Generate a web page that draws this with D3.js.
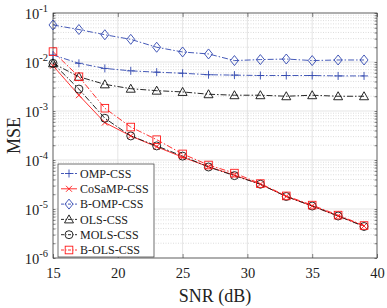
<!DOCTYPE html>
<html>
<head>
<meta charset="utf-8">
<script src="https://cdn.jsdelivr.net/npm/d3@7"></script>
<style>
  body { margin: 0; background: #fff; }
</style>
</head>
<body>
<svg id="chart" width="387" height="308"></svg>
<script>
// data
const snr = [15, 17, 19, 21, 23, 25, 27, 29, 31, 33, 35, 37, 39];
const ompCss = [0.0139, 0.0094, 0.0074, 0.0066, 0.0062, 0.0059, 0.0055, 0.0054, 0.0053, 0.0053, 0.0053, 0.0052, 0.0052];
const cosampCss = [0.0084, 0.0021, 0.00058, 0.00031, 0.000186, 0.000114, 7.3e-5, 4.9e-5, 3.2e-5, 1.8e-5, 1.15e-5, 7.2e-6, 4.5e-6];
const bOmpCss = [0.057, 0.046, 0.036, 0.029, 0.020, 0.016, 0.0146, 0.0107, 0.0112, 0.0115, 0.0107, 0.011, 0.011];
const olsCss = [0.0094, 0.005, 0.0035, 0.00285, 0.0026, 0.00245, 0.0022, 0.0021, 0.0021, 0.002, 0.0021, 0.002, 0.002];
const molsCss = [0.0094, 0.0028, 0.00071, 0.00031, 0.000194, 0.00012, 7.2e-5, 4.8e-5, 3.2e-5, 1.8e-5, 1.15e-5, 7.2e-6, 4.4e-6];
const bOlsCss = [0.0163, 0.005, 0.00114, 0.00047, 0.00026, 0.000133, 7.9e-5, 5.4e-5, 3.3e-5, 1.85e-5, 1.2e-5, 7.5e-6, 4.6e-6];

const xTicks = [15, 20, 25, 30, 35, 40];
const yExps = [-1, -2, -3, -4, -5, -6];

const serif = '"Liberation Serif", "Times New Roman", Times, "DejaVu Serif", serif';
const blue = "#3147b0", red = "#ff1a1a", black = "#111";
const series = [
  { name: "OMP-CSS", values: ompCss, color: blue, dash: "6,2,1.5,2", marker: "plus" },
  { name: "CoSaMP-CSS", values: cosampCss, color: red, dash: null, marker: "cross" },
  { name: "B-OMP-CSS", values: bOmpCss, color: blue, dash: "6,2,1.5,2", marker: "diamond" },
  { name: "OLS-CSS", values: olsCss, color: black, dash: "6,2,1.5,2", marker: "triangle" },
  { name: "MOLS-CSS", values: molsCss, color: black, dash: "6,2,1.5,2", marker: "circle" },
  { name: "B-OLS-CSS", values: bOlsCss, color: red, dash: "6,2,1.5,2", marker: "square" }
];

const margin = { top: 13, right: 10, bottom: 50, left: 53 },
  width = 387 - margin.left - margin.right,
  height = 308 - margin.top - margin.bottom;

const svg = d3.select("#chart");
const g = svg.append("g").attr("transform", `translate(${margin.left},${margin.top})`);

const x = d3.scaleLinear().domain([15, 40]).range([0, width]);
const y = d3.scaleLog().domain([1e-6, 1e-1]).range([height, 0]);

// minor grid (dotted)
const minors = [];
for (let e = -6; e < -1; e++) for (let k = 2; k <= 9; k++) minors.push(k * Math.pow(10, e));
g.selectAll(".minor").data(minors).enter().append("line")
  .attr("x1", 0).attr("x2", width)
  .attr("y1", d => y(d)).attr("y2", d => y(d))
  .attr("stroke", "#c8c8c8").attr("stroke-width", 0.6).attr("stroke-dasharray", "1,1.5");

// major grid
g.selectAll(".vgrid").data(xTicks).enter().append("line")
  .attr("x1", d => x(d)).attr("x2", d => x(d)).attr("y1", 0).attr("y2", height)
  .attr("stroke", "#dedede").attr("stroke-width", 0.8);
g.selectAll(".hgrid").data(yExps).enter().append("line")
  .attr("x1", 0).attr("x2", width)
  .attr("y1", d => y(Math.pow(10, d))).attr("y2", d => y(Math.pow(10, d)))
  .attr("stroke", "#dedede").attr("stroke-width", 0.8);

// axes with inward ticks
const tickLen = 4;
const axB = g.append("g").attr("transform", `translate(0,${height})`)
  .call(d3.axisBottom(x).tickValues(xTicks).tickSizeInner(-tickLen).tickSizeOuter(0).tickPadding(10));
const axT = g.append("g")
  .call(d3.axisTop(x).tickValues(xTicks).tickSizeInner(-tickLen).tickSizeOuter(0).tickFormat(""));
const allY = minors.concat(yExps.map(e => Math.pow(10, e)));
const axL = g.append("g")
  .call(d3.axisLeft(y).tickValues(allY).tickSizeInner(-2.5).tickSizeOuter(0).tickFormat(""));
const axR = g.append("g").attr("transform", `translate(${width},0)`)
  .call(d3.axisRight(y).tickValues(allY).tickSizeInner(-2.5).tickSizeOuter(0).tickFormat(""));
[axB, axT, axL, axR].forEach(a => {
  a.attr("font-family", serif);
  a.select(".domain").remove();
  a.selectAll(".tick line").attr("stroke", "#333").attr("stroke-width", 0.6);
});
axB.selectAll(".tick text").attr("font-family", serif).attr("font-size", 14.5).attr("fill", "#222");

// y tick labels 10^e
yExps.forEach(e => {
  const t = g.append("text")
    .attr("x", -5).attr("y", y(Math.pow(10, e)) + 6)
    .attr("font-family", serif)
    .attr("text-anchor", "end").attr("font-size", 14.5).attr("fill", "#222");
  t.append("tspan").text("10");
  t.append("tspan").attr("dy", -7).attr("font-size", 10.5).text("-" + Math.abs(e));
});

// box
g.append("rect").attr("width", width).attr("height", height)
  .attr("fill", "none").attr("stroke", "#333").attr("stroke-width", 0.7);

// lines
const line = d3.line().x((d, i) => x(snr[i])).y(d => y(d));
series.forEach(s => {
  g.append("path").datum(s.values)
    .attr("d", line).attr("fill", "none")
    .attr("stroke", s.color).attr("stroke-width", 0.9)
    .attr("stroke-dasharray", s.dash);
});

function drawMarker(sel, type, cx, cy, color) {
  const r = 4;
  const m = sel.append("g").attr("transform", `translate(${cx},${cy})`)
    .attr("fill", "none").attr("stroke", color).attr("stroke-width", 0.9);
  if (type === "plus") {
    m.append("path").attr("d", `M${-r},0H${r}M0,${-r}V${r}`);
  } else if (type === "cross") {
    m.append("path").attr("d", `M${-3},${-3}L3,3M${-3},3L3,${-3}`);
  } else if (type === "diamond") {
    m.append("path").attr("d", `M0,${-5}L4,0L0,5L${-4},0Z`);
  } else if (type === "triangle") {
    m.append("path").attr("d", `M0,${-4.5}L4.5,3.5L${-4.5},3.5Z`);
  } else if (type === "circle") {
    m.append("circle").attr("r", 4);
  } else if (type === "square") {
    m.append("rect").attr("x", -3.8).attr("y", -3.8).attr("width", 7.6).attr("height", 7.6);
  }
}

series.forEach(s => {
  s.values.forEach((v, i) => drawMarker(g, s.marker, x(snr[i]), y(v), s.color));
});

// axis labels
svg.append("text").attr("x", margin.left + width / 2).attr("y", 302)
  .attr("font-family", serif)
  .attr("text-anchor", "middle").attr("font-size", 18).attr("fill", "#222").text("SNR (dB)");
svg.append("text").attr("transform", `translate(20,${margin.top + height / 2}) rotate(-90)`)
  .attr("font-family", serif)
  .attr("text-anchor", "middle").attr("font-size", 18).attr("fill", "#222").text("MSE");

// legend
const lg = svg.append("g").attr("transform", "translate(58,164)");
lg.append("rect").attr("width", 96).attr("height", 93)
  .attr("fill", "#fff").attr("stroke", "#333").attr("stroke-width", 0.7);
series.forEach((s, i) => {
  const yy = 9.5 + i * 15.3;
  lg.append("line").attr("x1", 3).attr("x2", 19).attr("y1", yy).attr("y2", yy)
    .attr("stroke", s.color).attr("stroke-width", 0.9).attr("stroke-dasharray", s.dash ? "3,1.5,1,1.5" : null);
  drawMarker(lg, s.marker, 11, yy, s.color);
  lg.append("text").attr("x", 22).attr("y", yy + 4.3)
    .attr("font-family", serif)
    .attr("font-size", 12).attr("fill", "#222").text(s.name);
});
</script>
</body>
</html>
